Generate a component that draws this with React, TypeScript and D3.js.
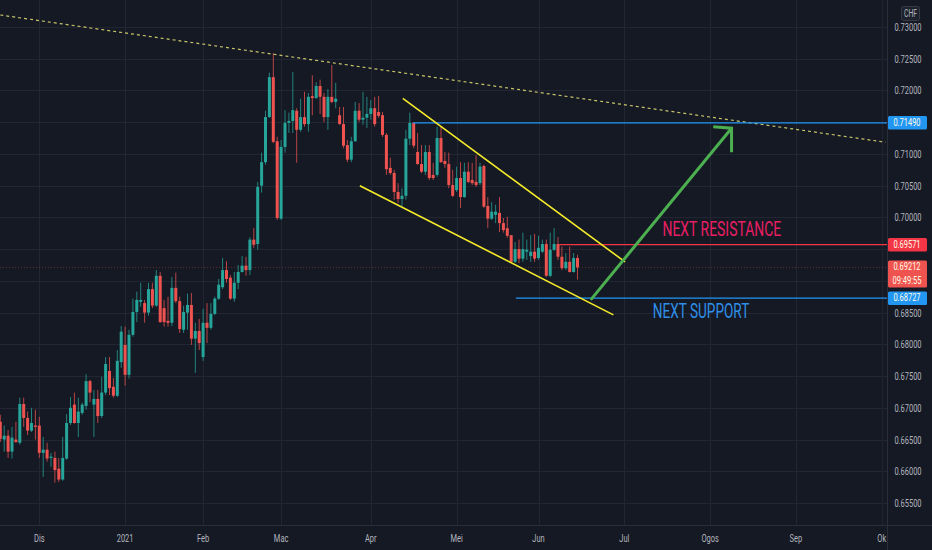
import { useEffect, useRef } from 'react'
import * as d3 from 'd3'

const W = 932
const H = 550
const PLOT_W = 887
const PLOT_H = 525
const SQUISH = 0.68 // the source shot is squeezed horizontally

// ── bars (USD/CHF daily), first bar = 2020-11-17 ──
const BAR_START = new Date(2020, 10, 17)
const BAR_END = new Date(2021, 9, 29)
const HOLIDAYS = ['2020-12-25', '2021-01-01']
const MONTH_NAMES = ['Jan', 'Feb', 'Mac', 'Apr', 'Mei', 'Jun', 'Jul', 'Ogos', 'Sep', 'Ok', 'Nov', 'Dis']

const open = [
  0.6678, 0.6650, 0.6656, 0.6631, 0.6650, 0.6645, 0.6706, 0.6684, 0.6664, 0.6672,
  0.6672, 0.6629, 0.6634, 0.6621, 0.6621, 0.6604, 0.6587, 0.6620, 0.6676, 0.6705,
  0.6676, 0.6692, 0.6703, 0.6742, 0.6705, 0.6714, 0.6687, 0.6724, 0.6758, 0.6733,
  0.6719, 0.6772, 0.6799, 0.6752, 0.6815, 0.6851, 0.6867, 0.6865, 0.6850, 0.6887,
  0.6861, 0.6908, 0.6857, 0.6837, 0.6834, 0.6889, 0.6868, 0.6823, 0.6850, 0.6862,
  0.6809, 0.6821, 0.6780, 0.6834, 0.6826, 0.6848, 0.6872, 0.6890, 0.6917, 0.6905,
  0.6872, 0.6897, 0.6914, 0.6924, 0.6917, 0.6965, 0.6958, 0.7050, 0.7087, 0.7158,
  0.7221, 0.7120, 0.6998, 0.7111, 0.7149, 0.7152, 0.7168, 0.7138, 0.7158, 0.7147,
  0.7191, 0.7188, 0.7207, 0.7190, 0.7158, 0.7190, 0.7182, 0.7161, 0.7147, 0.7114,
  0.7091, 0.7120, 0.7168, 0.7154, 0.7157, 0.7163, 0.7172, 0.7166, 0.7161, 0.7130,
  0.7078, 0.7070, 0.7040, 0.7029, 0.7034, 0.7124, 0.7149, 0.7103, 0.7084, 0.7072,
  0.7103, 0.7067, 0.7067, 0.7125, 0.7089, 0.7084, 0.7051, 0.7043, 0.7062, 0.7032,
  0.7072, 0.7059, 0.7056, 0.7054, 0.7081, 0.7018, 0.6998, 0.7004, 0.7007, 0.6991,
  0.6983, 0.6972, 0.6930, 0.6950, 0.6935, 0.6946, 0.6939, 0.6946, 0.6936, 0.6946,
  0.6958, 0.6908, 0.6949, 0.6958, 0.6938, 0.6920, 0.6930, 0.6914, 0.6936,
]
const high = [
  0.6689, 0.6672, 0.6665, 0.6670, 0.6678, 0.6716, 0.6716, 0.6694, 0.6700, 0.6697,
  0.6686, 0.6654, 0.6645, 0.6629, 0.6631, 0.6621, 0.6654, 0.6690, 0.6717, 0.6724,
  0.6716, 0.6708, 0.6753, 0.6744, 0.6728, 0.6728, 0.6749, 0.6780, 0.6780, 0.6747,
  0.6791, 0.6829, 0.6828, 0.6823, 0.6872, 0.6883, 0.6897, 0.6870, 0.6897, 0.6897,
  0.6917, 0.6914, 0.6870, 0.6875, 0.6906, 0.6913, 0.6875, 0.6861, 0.6880, 0.6881,
  0.6834, 0.6840, 0.6856, 0.6865, 0.6865, 0.6875, 0.6903, 0.6936, 0.6931, 0.6909,
  0.6914, 0.6925, 0.6939, 0.6938, 0.6969, 0.6983, 0.7056, 0.7102, 0.7168, 0.7228,
  0.7259, 0.7127, 0.7122, 0.7169, 0.7165, 0.7229, 0.7172, 0.7187, 0.7198, 0.7196,
  0.7224, 0.7213, 0.7217, 0.7196, 0.7202, 0.7240, 0.7212, 0.7174, 0.7174, 0.7122,
  0.7127, 0.7182, 0.7180, 0.7198, 0.7190, 0.7185, 0.7190, 0.7191, 0.7166, 0.7133,
  0.7094, 0.7075, 0.7054, 0.7046, 0.7138, 0.7165, 0.7150, 0.7133, 0.7114, 0.7114,
  0.7114, 0.7086, 0.7143, 0.7143, 0.7103, 0.7102, 0.7075, 0.7080, 0.7087, 0.7086,
  0.7087, 0.7086, 0.7098, 0.7086, 0.7083, 0.7032, 0.7024, 0.7020, 0.7032, 0.6999,
  0.7001, 0.6972, 0.6961, 0.6965, 0.6976, 0.6965, 0.6972, 0.6974, 0.6971, 0.6965,
  0.6965, 0.6976, 0.6983, 0.6969, 0.6954, 0.6944, 0.6954, 0.6944, 0.6941,
]
const low = [
  0.6646, 0.6631, 0.6621, 0.6620, 0.6645, 0.6642, 0.6670, 0.6657, 0.6662, 0.6650,
  0.6621, 0.6591, 0.6615, 0.6607, 0.6582, 0.6583, 0.6585, 0.6618, 0.6673, 0.6675,
  0.6654, 0.6689, 0.6697, 0.6709, 0.6654, 0.6676, 0.6684, 0.6720, 0.6720, 0.6716,
  0.6717, 0.6763, 0.6735, 0.6746, 0.6812, 0.6835, 0.6859, 0.6834, 0.6845, 0.6857,
  0.6859, 0.6834, 0.6828, 0.6828, 0.6829, 0.6865, 0.6818, 0.6818, 0.6823, 0.6799,
  0.6755, 0.6791, 0.6774, 0.6802, 0.6823, 0.6846, 0.6870, 0.6887, 0.6897, 0.6870,
  0.6867, 0.6887, 0.6913, 0.6908, 0.6909, 0.6952, 0.6949, 0.7039, 0.7083, 0.7157,
  0.7117, 0.6996, 0.6996, 0.7102, 0.7133, 0.7133, 0.7086, 0.7135, 0.7143, 0.7135,
  0.7161, 0.7187, 0.7163, 0.7150, 0.7138, 0.7180, 0.7172, 0.7146, 0.7109, 0.7087,
  0.7087, 0.7119, 0.7150, 0.7146, 0.7141, 0.7154, 0.7143, 0.7157, 0.7127, 0.7067,
  0.7067, 0.7028, 0.7023, 0.7017, 0.7028, 0.7114, 0.7109, 0.7083, 0.7070, 0.7067,
  0.7059, 0.7059, 0.7064, 0.7086, 0.7078, 0.7046, 0.7032, 0.7040, 0.7015, 0.7031,
  0.7054, 0.7051, 0.7048, 0.7051, 0.7015, 0.6983, 0.6996, 0.6991, 0.6977, 0.6976,
  0.6968, 0.6928, 0.6928, 0.6928, 0.6930, 0.6933, 0.6930, 0.6930, 0.6933, 0.6944,
  0.6906, 0.6906, 0.6947, 0.6933, 0.6917, 0.6917, 0.6913, 0.6913, 0.6902,
]
const close = [
  0.6651, 0.6656, 0.6631, 0.6653, 0.6646, 0.6706, 0.6684, 0.6664, 0.6676, 0.6670,
  0.6629, 0.6634, 0.6620, 0.6623, 0.6602, 0.6587, 0.6621, 0.6676, 0.6700, 0.6676,
  0.6694, 0.6705, 0.6742, 0.6724, 0.6714, 0.6687, 0.6724, 0.6769, 0.6731, 0.6719,
  0.6774, 0.6820, 0.6752, 0.6815, 0.6851, 0.6870, 0.6870, 0.6850, 0.6887, 0.6861,
  0.6908, 0.6835, 0.6835, 0.6834, 0.6889, 0.6868, 0.6824, 0.6851, 0.6862, 0.6809,
  0.6821, 0.6802, 0.6834, 0.6826, 0.6848, 0.6872, 0.6894, 0.6917, 0.6903, 0.6872,
  0.6897, 0.6914, 0.6924, 0.6917, 0.6965, 0.6957, 0.7048, 0.7087, 0.7158, 0.7221,
  0.7119, 0.6999, 0.7111, 0.7149, 0.7152, 0.7169, 0.7138, 0.7158, 0.7147, 0.7190,
  0.7188, 0.7207, 0.7190, 0.7158, 0.7190, 0.7182, 0.7187, 0.7147, 0.7113, 0.7091,
  0.7120, 0.7168, 0.7154, 0.7157, 0.7163, 0.7172, 0.7147, 0.7160, 0.7130, 0.7076,
  0.7070, 0.7040, 0.7029, 0.7034, 0.7124, 0.7149, 0.7113, 0.7084, 0.7072, 0.7103,
  0.7062, 0.7062, 0.7125, 0.7087, 0.7084, 0.7051, 0.7034, 0.7062, 0.7032, 0.7072,
  0.7056, 0.7054, 0.7051, 0.7080, 0.7017, 0.6998, 0.7009, 0.7009, 0.6991, 0.6980,
  0.6971, 0.6930, 0.6950, 0.6935, 0.6950, 0.6949, 0.6946, 0.6935, 0.6952, 0.6958,
  0.6908, 0.6949, 0.6958, 0.6938, 0.6920, 0.6930, 0.6914, 0.6936, 0.69212,
]

// price axis ticks
const PRICE_TICKS = [0.655, 0.66, 0.665, 0.67, 0.675, 0.68, 0.685, 0.69, 0.695, 0.70, 0.705, 0.71, 0.715, 0.72, 0.725, 0.73]

// drawings: [bar index, price]
const TREND_LINE = [[0, 0.73189], [227, 0.71184]]
const CHANNEL_UPPER = [[103.2, 0.71877], [160.2, 0.69299]]
const CHANNEL_LOWER = [[92.2, 0.70500], [157.2, 0.68464]]
const ARROW = [[151.6, 0.68716], [187.5, 0.71405]]
const ARROW_HEAD = [[182.8, 0.71430], [187.5, 0.71405], [187.5, 0.71027]]
const LEVEL_TOP = { from: 105.8, price: 0.71490 }
const LEVEL_RES = { from: 143.3, price: 0.69571 }
const LEVEL_SUP = { from: 132.2, price: 0.68727 }
const RES_TEXT = { at: [169.8, 0.69700], text: 'NEXT RESISTANCE' }
const SUP_TEXT = { at: [167.3, 0.68417], text: 'NEXT SUPPORT' }
const COUNTDOWN = '09:49:55'

const BG = '#151924'
const GRID = '#222632'
const UP = '#26a69a'
const DOWN = '#ef5350'
const AXIS_TXT = '#b2b5be'
const FONT = 'Roboto, "Noto Sans", sans-serif'

function tradingDays(): Date[] {
  const out: Date[] = []
  const d = new Date(BAR_START)
  while (d <= BAR_END) {
    const key = `${d.getFullYear()}-${String(d.getMonth() + 1).padStart(2, '0')}-${String(d.getDate()).padStart(2, '0')}`
    const wd = d.getDay()
    if (wd !== 0 && wd !== 6 && !HOLIDAYS.includes(key)) out.push(new Date(d))
    d.setDate(d.getDate() + 1)
  }
  return out
}

export default function App() {
  const svgRef = useRef<SVGSVGElement>(null)

  useEffect(() => {
    const svg = d3.select(svgRef.current)
    svg.selectAll('*').remove()
    svg.attr('viewBox', `0 0 ${W} ${H}`)

    const x = d3.scaleLinear().domain([0, 226]).range([0.3, 881.7])
    const y = d3.scaleLinear().domain([0.655, 0.73]).range([503, 27])

    const days = tradingDays()
    const monthTicks = days
      .map((d, i) => ({ d, i }))
      .filter(({ d, i }) => i > 0 && d.getMonth() !== days[i - 1].getMonth())
      .map(({ d, i }) => ({ i, label: d.getMonth() === 0 ? String(d.getFullYear()) : MONTH_NAMES[d.getMonth()] }))

    const txt = (
      parent: d3.Selection<any, unknown, null, undefined>,
      px: number, py: number, s: string, size: number, color: string,
      anchor = 'middle',
    ) => {
      parent.append('g')
        .attr('transform', `translate(${px},${py}) scale(${SQUISH},1)`)
        .append('text')
        .attr('text-anchor', anchor)
        .attr('font-family', FONT)
        .attr('font-size', size)
        .attr('fill', color)
        .text(s)
    }

    svg.append('rect').attr('width', W).attr('height', H).attr('fill', BG)

    svg.append('defs').append('clipPath').attr('id', 'plot')
      .append('rect').attr('width', PLOT_W).attr('height', PLOT_H)

    // ── grid ──
    const grid = svg.append('g').attr('clip-path', 'url(#plot)')
    PRICE_TICKS.forEach((p) => {
      grid.append('line')
        .attr('x1', 0).attr('x2', PLOT_W)
        .attr('y1', Math.round(y(p)) + 0.5).attr('y2', Math.round(y(p)) + 0.5)
        .attr('stroke', GRID).attr('stroke-width', 1)
    })
    monthTicks.forEach(({ i }) => {
      grid.append('line')
        .attr('x1', Math.round(x(i)) + 0.5).attr('x2', Math.round(x(i)) + 0.5)
        .attr('y1', 0).attr('y2', PLOT_H)
        .attr('stroke', GRID).attr('stroke-width', 1)
    })

    const plot = svg.append('g').attr('clip-path', 'url(#plot)')

    // ── current price line ──
    const last = close[close.length - 1]
    plot.append('line')
      .attr('x1', 0).attr('x2', PLOT_W)
      .attr('y1', y(last)).attr('y2', y(last))
      .attr('stroke', DOWN).attr('stroke-opacity', 0.35)
      .attr('stroke-dasharray', '1 2')

    // ── candles ──
    close.forEach((c, i) => {
      const o = open[i]
      const col = c >= o ? UP : DOWN
      const cx = x(i)
      plot.append('line')
        .attr('x1', cx).attr('x2', cx)
        .attr('y1', y(high[i])).attr('y2', y(low[i]))
        .attr('stroke', col).attr('stroke-opacity', 0.75).attr('stroke-width', 1)
      const top = y(Math.max(o, c))
      const h = Math.max(1, Math.abs(y(o) - y(c)))
      plot.append('rect')
        .attr('x', cx - 1.5).attr('y', top)
        .attr('width', 3).attr('height', h)
        .attr('fill', col)
    })

    const line = d3.line<number[]>().x((d) => x(d[0])).y((d) => y(d[1]))

    // ── long dotted trend line ──
    plot.append('path').datum(TREND_LINE).attr('d', line)
      .attr('fill', 'none').attr('stroke', '#c8c46a')
      .attr('stroke-width', 1.2).attr('stroke-dasharray', '3 3')

    // ── horizontal levels ──
    ;[
      { ...LEVEL_TOP, color: '#2196f3' },
      { ...LEVEL_RES, color: '#f23645' },
      { ...LEVEL_SUP, color: '#2196f3' },
    ].forEach((lv) => {
      plot.append('line')
        .attr('x1', x(lv.from)).attr('x2', PLOT_W)
        .attr('y1', y(lv.price)).attr('y2', y(lv.price))
        .attr('stroke', lv.color).attr('stroke-width', 1.3)
    })

    // ── falling channel ──
    ;[CHANNEL_UPPER, CHANNEL_LOWER].forEach((seg) => {
      plot.append('path').datum(seg).attr('d', line)
        .attr('fill', 'none').attr('stroke', '#f5eb2a').attr('stroke-width', 1.6)
    })

    // ── green arrow ──
    plot.append('path').datum(ARROW).attr('d', line)
      .attr('fill', 'none').attr('stroke', '#4caf50').attr('stroke-width', 3)
      .attr('stroke-linecap', 'round')
    plot.append('path').datum(ARROW_HEAD).attr('d', line)
      .attr('fill', 'none').attr('stroke', '#4caf50').attr('stroke-width', 3)
      .attr('stroke-linejoin', 'miter')

    // ── labels ──
    txt(plot, x(RES_TEXT.at[0]), y(RES_TEXT.at[1]), RES_TEXT.text, 20.5, '#e91e63', 'start')
    txt(plot, x(SUP_TEXT.at[0]), y(SUP_TEXT.at[1]), SUP_TEXT.text, 20, '#2f8fe8', 'start')

    // ── axis borders ──
    svg.append('line')
      .attr('x1', PLOT_W + 0.5).attr('x2', PLOT_W + 0.5).attr('y1', 0).attr('y2', H)
      .attr('stroke', '#2a2e39')
    svg.append('line')
      .attr('x1', 0).attr('x2', W).attr('y1', PLOT_H + 0.5).attr('y2', PLOT_H + 0.5)
      .attr('stroke', '#2a2e39')

    // ── price axis ──
    const axis = svg.append('g')
    const tags = [
      { p: LEVEL_TOP.price, fill: '#2196f3', lines: [LEVEL_TOP.price.toFixed(5)] },
      { p: LEVEL_RES.price, fill: '#f23645', lines: [LEVEL_RES.price.toFixed(5)] },
      { p: last, fill: '#ef5350', lines: [last.toFixed(5), COUNTDOWN] },
      { p: LEVEL_SUP.price, fill: '#2196f3', lines: [LEVEL_SUP.price.toFixed(5)] },
    ].map((t) => {
      const hgt = t.lines.length * 13.5
      const top = t.lines.length > 1 ? y(t.p) - 7 : y(t.p) - hgt / 2
      return { ...t, top, hgt }
    })

    // tick labels hidden behind a tag are not drawn
    PRICE_TICKS.forEach((p) => {
      const ty = y(p)
      const covered = tags.some((t) => ty > t.top - 5 && ty < t.top + t.hgt + 5)
      if (!covered) txt(axis, 908, ty + 4, p.toFixed(5), 11, AXIS_TXT)
    })

    tags.forEach((t) => {
      axis.append('rect')
        .attr('x', PLOT_W + 1).attr('y', t.top)
        .attr('width', 39).attr('height', t.hgt)
        .attr('rx', 1.5).attr('fill', t.fill)
      t.lines.forEach((s, k) => {
        txt(axis, 907, t.top + 10 + k * 13.5, s, 11, '#fffbe6')
      })
    })

    // currency badge
    axis.append('rect')
      .attr('x', 901.5).attr('y', 6.5).attr('width', 18).attr('height', 14)
      .attr('rx', 2).attr('fill', '#1e222d').attr('stroke', '#363a45')
    txt(axis, 910.5, 17, 'CHF', 10, AXIS_TXT)

    // ── time axis ──
    monthTicks.forEach(({ i, label }) => {
      if (x(i) > PLOT_W) return
      txt(svg, x(i), 542, label, 11, AXIS_TXT)
    })
  }, [])

  return (
    <div style={{ position: 'fixed', left: 0, top: 0, width: W, height: H }}>
      <svg ref={svgRef} width={W} height={H} style={{ display: 'block' }} />
    </div>
  )
}
